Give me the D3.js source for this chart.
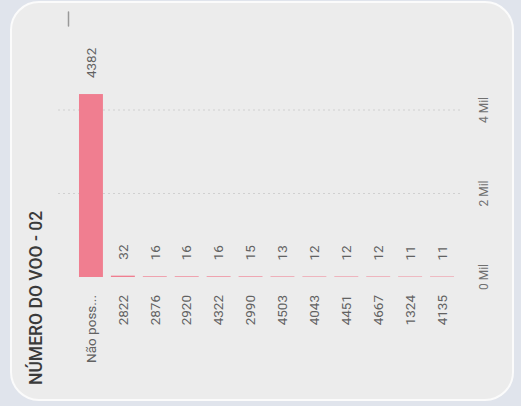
<!DOCTYPE html>
<html>
<head>
<meta charset="utf-8">
<script src="https://cdn.jsdelivr.net/npm/d3@7"></script>
<style>
  html, body { margin: 0; padding: 0; background: #e0e4ec; }
  svg { display: block; }
  text { font-family: Roboto, "DejaVu Sans", sans-serif; }
</style>
</head>
<body>
<svg id="chart" width="521" height="406"></svg>
<script>
// Flight numbers and their counts
const categories = ["Não poss...", "2822", "2876", "2920", "4322", "2990", "4503", "4043", "4451", "4667", "1324", "4135"];
const values = [4382, 32, 16, 16, 16, 15, 13, 12, 12, 12, 11, 11];
const valueTicks = [0, 2000, 4000];
const tickLabels = ["0 Mil", "2 Mil", "4 Mil"];
const title = "NÚMERO DO VOO - 02";

const svg = d3.select("#chart");

// card
svg.append("rect")
  .attr("x", 11).attr("y", 2)
  .attr("width", 502).attr("height", 398)
  .attr("rx", 28).attr("ry", 28)
  .attr("fill", "#ececec")
  .attr("stroke", "#fbfbfb")
  .attr("stroke-width", 2);

// small header mark
svg.append("line")
  .attr("x1", 68.5).attr("x2", 68.5)
  .attr("y1", 12).attr("y2", 26)
  .attr("stroke", "#999")
  .attr("stroke-width", 1.5)
  .attr("stroke-linecap", "round");

// The chart is laid out turned a quarter turn: categories run left→right,
// values grow upward, and all text reads bottom→top.
const x = d3.scaleBand()
  .domain(categories)
  .range([75, 458])
  .paddingInner(0.25)
  .paddingOuter(0.125);

const y = d3.scaleLinear()
  .domain([0, 4000])
  .range([277, 110]);

// dotted gridlines
svg.append("g")
  .selectAll("line")
  .data(valueTicks.slice(1))
  .join("line")
  .attr("x1", 58).attr("x2", 463)
  .attr("y1", d => y(d)).attr("y2", d => y(d))
  .attr("stroke", "#d0d0d0")
  .attr("stroke-width", 1)
  .attr("stroke-dasharray", "2,3");

// value axis labels
svg.append("g")
  .selectAll("text")
  .data(valueTicks)
  .join("text")
  .attr("transform", d => `translate(484,${y(d)}) rotate(-90)`)
  .attr("text-anchor", "middle")
  .attr("dy", "0.35em")
  .attr("font-size", 12)
  .attr("fill", "#707070")
  .text((d, i) => tickLabels[i]);

// bars
svg.append("g")
  .selectAll("rect")
  .data(values)
  .join("rect")
  .attr("x", (d, i) => x(categories[i]))
  .attr("width", x.bandwidth())
  .attr("y", d => y(d))
  .attr("height", d => y(0) - y(d))
  .attr("fill", "#f07e90");

// value labels
svg.append("g")
  .selectAll("text")
  .data(values)
  .join("text")
  .attr("transform", (d, i) => `translate(${x(categories[i]) + x.bandwidth() / 2},${y(d) - 16}) rotate(-90)`)
  .attr("text-anchor", "start")
  .attr("dy", "0.35em")
  .attr("font-size", 13.5)
  .attr("fill", "#626262")
  .text(d => d);

// category labels
svg.append("g")
  .selectAll("text")
  .data(categories)
  .join("text")
  .attr("transform", d => `translate(${x(d) + x.bandwidth() / 2},${y(0) + 18}) rotate(-90)`)
  .attr("text-anchor", "end")
  .attr("dy", "0.35em")
  .attr("font-size", 13.5)
  .attr("fill", "#626262")
  .text(d => d);

// title
svg.append("text")
  .attr("transform", "translate(36,385) rotate(-90)")
  .attr("text-anchor", "start")
  .attr("dy", "0.35em")
  .attr("font-size", 17.5)
  .attr("font-weight", 500)
  .attr("fill", "#3a3a3a")
  .text(title);
</script>
</body>
</html>
